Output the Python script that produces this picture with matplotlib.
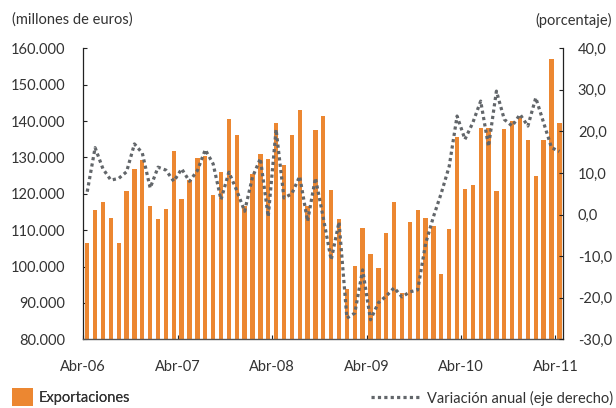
import matplotlib
matplotlib.use("Agg")
import matplotlib.pyplot as plt
import numpy as np
from matplotlib.ticker import FixedLocator

# ---- data ----
exportaciones = [
    106.5, 115.5, 117.7, 113.3, 106.5, 120.7, 126.9, 129.3, 116.7, 113.0,
    115.8, 131.7, 118.5, 123.8, 129.9, 130.4, 119.6, 126.0, 140.5, 136.1,
    116.6, 125.4, 130.9, 129.5, 139.4, 127.9, 136.1, 143.0, 116.6, 137.5,
    141.3, 121.0, 113.0, 93.8, 100.1, 110.6, 103.4, 99.6, 109.2, 117.7,
    92.7, 112.2, 115.5, 113.3, 111.1, 97.9, 110.3, 135.6, 121.3, 122.4,
    138.2, 138.2, 120.7, 137.7, 139.9, 141.0, 134.8, 124.9, 134.8, 157.0,
    139.4,
]  # miles de millones -> millones (x1000)
exportaciones = [v * 1000 for v in exportaciones]

variacion = [
    5.5, 16.1, 11.0, 8.3, 8.7, 10.3, 17.0, 14.8, 6.4, 11.4,
    10.7, 8.0, 11.0, 8.0, 10.6, 15.6, 12.2, 3.6, 10.2, 5.8,
    0.8, 9.0, 13.5, -0.5, 20.5, 4.0, 5.0, 9.2, -1.6, 8.8,
    -0.8, -10.9, -1.8, -24.9, -23.7, -13.3, -25.3, -21.2, -19.6, -17.6,
    -19.8, -18.6, -18.1, -7.0, -0.5, 5.2, 11.6, 23.7, 18.1, 22.1,
    27.3, 16.4, 29.7, 22.9, 21.3, 24.1, 21.3, 28.1, 22.1, 16.1,
    15.2,
]

x_labels = ["Abr-06", "Abr-07", "Abr-08", "Abr-09", "Abr-10", "Abr-11"]
x_label_months = [0, 12, 24, 36, 48, 60]

left_ticks = [80000, 90000, 100000, 110000, 120000, 130000, 140000, 150000, 160000]
left_labels = ["80.000", "90.000", "100.000", "110.000", "120.000",
               "130.000", "140.000", "150.000", "160.000"]
right_ticks = [-30, -20, -10, 0, 10, 20, 30, 40]
right_labels = ["-30,0", "-20,0", "-10,0", "0,0", "10,0", "20,0", "30,0", "40,0"]

# ---- style ----
plt.rcParams['font.family'] = ['Lato', 'DejaVu Sans']
TXT = '#333333'
ORANGE = '#EC8731'
LINEC = '#62666a'
FS = 10.5

fig = plt.figure(figsize=(6.16, 4.08), dpi=100)
ax = fig.add_axes([83.3 / 616, 1 - 339.3 / 408, 480 / 616, 291 / 408])

n = len(exportaciones)
xs = np.arange(n)
bars = ax.bar(xs, exportaciones, width=0.55, color=ORANGE, zorder=2,
              label="Exportaciones")
ax.set_xlim(-0.5, n - 0.5)
ax.set_ylim(80000, 160000)

ax.yaxis.set_major_locator(FixedLocator(left_ticks))
ax.set_yticklabels(left_labels)
ax.set_xticks([m - 0.5 for m in x_label_months])
ax.set_xticklabels(x_labels)

ax.tick_params(axis='y', direction='in', length=3, width=0.8, pad=13,
               labelsize=FS, labelcolor=TXT, color='#222222')
ax.tick_params(axis='x', direction='in', length=3, width=0.8, pad=15,
               labelsize=FS, labelcolor=TXT, color='#222222')
for lab in ax.get_xticklabels():
    lab.set_horizontalalignment('center')

ax.spines['top'].set_visible(False)
ax.spines['left'].set_color('#222222')
ax.spines['left'].set_linewidth(0.9)
ax.spines['bottom'].set_color('#555555')
ax.spines['bottom'].set_linewidth(1.0)
ax.spines['right'].set_visible(False)
ax.patch.set_visible(False)

ax2 = ax.twinx()
line, = ax2.plot(xs, variacion, color=LINEC, lw=2.3,
                 linestyle=(0, (1, 1)), dash_capstyle='butt',
                 label="Variación anual (eje derecho)", zorder=3)
ax2.set_ylim(-30, 40)
ax2.yaxis.set_major_locator(FixedLocator(right_ticks))
ax2.set_yticklabels(right_labels)
ax2.tick_params(axis='y', direction='in', length=3, width=0.8, pad=10.5,
                labelsize=FS, labelcolor=TXT, color='#222222')
ax2.spines['top'].set_visible(False)
ax2.spines['left'].set_visible(False)
ax2.spines['bottom'].set_visible(False)
ax2.spines['right'].set_color('#222222')
ax2.spines['right'].set_linewidth(0.9)

# headers
fig.text(11.5 / 616, 1 - 20 / 408, "(millones de euros)", fontsize=FS,
         color=TXT, ha='left', va='center')
fig.text(612 / 616, 1 - 20 / 408, "(porcentaje)", fontsize=FS,
         color=TXT, ha='right', va='center')

# legends
leg1 = fig.legend(handles=[bars], loc='lower left',
                  bbox_to_anchor=(11.5 / 616, 1 - 405.5 / 408),
                  frameon=False, fontsize=FS, borderpad=0, borderaxespad=0,
                  handlelength=1.45, handleheight=1.45, handletextpad=0.42,
                  labelcolor=TXT)
leg2 = fig.legend(handles=[line], loc='lower right',
                  bbox_to_anchor=(613.5 / 616, 1 - 405.5 / 408),
                  frameon=False, fontsize=FS, borderpad=0, borderaxespad=0,
                  handlelength=3.3, handletextpad=0.55, labelcolor=TXT)
fig.add_artist(leg1)

fig.savefig("out.png", dpi=100)
